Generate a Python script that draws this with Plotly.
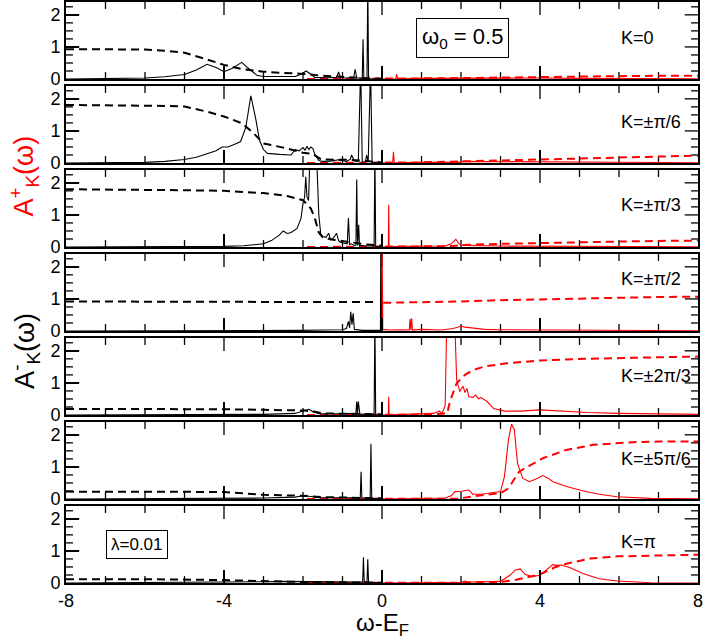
import plotly.graph_objects as go
from plotly.subplots import make_subplots

# ---------------- data ----------------
k_labels = ["K=0", "K=±π/6", "K=±π/3", "K=±π/2", "K=±2π/3", "K=±5π/6", "K=π"]
x_ticks = [-8, -4, 0, 4, 8]
y_ticks = [0, 1, 2]

k0_neg_w = [-8, -6.5, -6, -5.5, -5, -4.7, -4.43, -4.2, -4.0, -3.8, -3.55, -3.4, -3.17, -3.0, -2.5, -2.2, -2.05, -1.92, -1.8, -1.7, -1.4, -1.15, -1.1, -1.05, -0.9, -0.72, -0.68, -0.64, -0.5, -0.48, -0.46, -0.38, -0.36, -0.34, -0.3, 0]
k0_neg_A = [0, 0.01, 0.03, 0.07, 0.14, 0.28, 0.46, 0.36, 0.23, 0.33, 0.52, 0.35, 0.12, 0.08, 0.07, 0.08, 0.15, 0.25, 0.15, 0.05, 0.04, 0.05, 0.22, 0.04, 0.03, 0.04, 0.3, 0.04, 0.03, 1.24, 0.03, 0.02, 3.0, 0.02, 0.01, 0]
k0_neg_cw = [-8, -6, -5.5, -5, -4.43, -4, -3.55, -3, -2.5, -2, -1.5, -1, -0.5, 0]
k0_neg_C = [0.93, 0.92, 0.88, 0.82, 0.61, 0.44, 0.31, 0.23, 0.19, 0.16, 0.1, 0.06, 0.03, 0.01]
k0_pos_w = [0, 0.35, 0.37, 0.39, 1, 2, 3, 4, 5, 6, 8]
k0_pos_A = [0, 0.01, 0.15, 0.01, 0.02, 0.03, 0.03, 0.03, 0.02, 0.02, 0.01]
k0_pos_cw = [-1.9, 0, 0.4, 1, 2, 3, 4, 5, 6, 7, 8]
k0_pos_C = [0, 0, 0.01, 0.02, 0.03, 0.05, 0.06, 0.08, 0.09, 0.1, 0.1]

k1_neg_w = [-8, -6.5, -6, -5.5, -5, -4.7, -4.43, -4.2, -4.05, -3.9, -3.7, -3.58, -3.45, -3.32, -3.2, -3.1, -3.0, -2.9, -2.6, -2.3, -2.2, -2.1, -2.0, -1.95, -1.9, -1.85, -1.8, -1.75, -1.7, -1.6, -1.5, -1.3, -1.1, -0.9, -0.8, -0.77, -0.7, -0.6, -0.54, -0.5, -0.42, -0.39, -0.35, -0.29, -0.25, 0]
k1_neg_A = [0, 0.01, 0.02, 0.05, 0.11, 0.18, 0.28, 0.38, 0.5, 0.5, 0.6, 0.67, 1.1, 2.09, 1.4, 0.7, 0.42, 0.3, 0.27, 0.25, 0.42, 0.38, 0.48, 0.4, 0.52, 0.42, 0.5, 0.45, 0.27, 0.08, 0.05, 0.06, 0.1, 0.05, 0.12, 0.25, 0.06, 0.05, 3.0, 0.03, 0.04, 0.25, 0.03, 3.0, 0.02, 0]
k1_neg_cw = [-8, -6, -5.5, -5, -4.43, -4, -3.55, -3.25, -3, -2.5, -2, -1.75, -1.55, -1.2, -0.8, -0.4, 0]
k1_neg_C = [1.81, 1.8, 1.78, 1.76, 1.6, 1.45, 1.24, 0.93, 0.61, 0.48, 0.32, 0.28, 0.12, 0.1, 0.1, 0.06, 0.02]
k1_pos_w = [0, 0.27, 0.29, 0.31, 1.0, 1.95, 2.0, 3, 4, 5, 6, 8]
k1_pos_A = [0, 0.01, 0.35, 0.01, 0.02, 0.02, 0.05, 0.04, 0.04, 0.03, 0.02, 0.01]
k1_pos_cw = [-1.9, 0, 0.3, 1, 2, 3, 4, 5, 6, 7, 8]
k1_pos_C = [0, 0, 0.01, 0.02, 0.05, 0.08, 0.11, 0.15, 0.18, 0.21, 0.23]

k2_neg_w = [-8, -6, -5, -4, -3.5, -3.0, -2.8, -2.6, -2.5, -2.4, -2.3, -2.15, -2.05, -2.0, -1.96, -1.93, -1.9, -1.86, -1.82, -1.75, -1.66, -1.6, -1.55, -1.5, -1.42, -1.35, -1.3, -1.25, -1.15, -1.1, -1.05, -0.95, -0.88, -0.85, -0.82, -0.78, -0.7, -0.66, -0.64, -0.62, -0.59, -0.57, -0.55, -0.4, -0.2, -0.18, -0.16, 0]
k2_neg_A = [0, 0.0, 0.01, 0.02, 0.04, 0.1, 0.2, 0.37, 0.5, 0.42, 0.45, 0.58, 0.9, 1.36, 1.55, 2.19, 1.57, 1.45, 3.0, 3.0, 3.0, 1.0, 0.4, 0.33, 0.3, 0.43, 0.22, 0.25, 0.43, 0.2, 0.15, 0.12, 0.1, 0.9, 0.08, 0.1, 0.05, 0.06, 2.1, 0.05, 0.69, 0.04, 0.05, 0.03, 0.03, 3.0, 0.02, 0]
k2_neg_cw = [-8, -6, -5, -4, -3, -2.4, -2, -1.8, -1.7, -1.6, -1.5, -1.2, -0.8, -0.4, 0]
k2_neg_C = [1.8, 1.79, 1.77, 1.75, 1.68, 1.59, 1.46, 1.2, 0.9, 0.45, 0.3, 0.22, 0.15, 0.08, 0.04]
k2_pos_w = [0, 0.16, 0.17, 0.18, 0.5, 1.0, 1.6, 1.75, 1.87, 1.95, 2.05, 3, 4, 5, 8]
k2_pos_A = [0, 0.01, 1.32, 0.01, 0.02, 0.02, 0.03, 0.1, 0.24, 0.1, 0.05, 0.03, 0.03, 0.02, 0.01]
k2_pos_cw = [-1.9, 0, 0.2, 1, 1.8, 2.0, 3, 4, 5, 6, 7, 8]
k2_pos_C = [0, 0, 0.01, 0.02, 0.03, 0.06, 0.1, 0.13, 0.15, 0.17, 0.19, 0.2]

k3_neg_w = [-8, -5, -3, -2, -1.5, -1.2, -1.0, -0.9, -0.85, -0.82, -0.79, -0.76, -0.73, -0.7, -0.5, -0.1, -0.04, -0.03, -0.02]
k3_neg_A = [0, 0.0, 0.01, 0.02, 0.03, 0.05, 0.04, 0.08, 0.3, 0.1, 0.6, 0.2, 0.55, 0.05, 0.02, 0.02, 0.02, 3.0, 0]
k3_neg_cw = [-8, -4, -2, -1, -0.12]
k3_neg_C = [0.92, 0.92, 0.91, 0.9, 0.9]
k3_pos_w = [-0.01, 0.0, 0.02, 0.2, 0.5, 0.69, 0.71, 0.73, 0.75, 0.77, 1.0, 1.5, 1.8, 2.0, 2.1, 2.3, 2.6, 3, 4, 5, 8]
k3_pos_A = [0, 3.0, 0.05, 0.03, 0.04, 0.03, 0.37, 0.03, 0.4, 0.03, 0.05, 0.03, 0.08, 0.15, 0.12, 0.1, 0.05, 0.04, 0.03, 0.03, 0.01]
k3_pos_cw = [0.03, 1, 2, 3, 4, 5, 6, 7, 8]
k3_pos_C = [0.88, 0.89, 0.92, 0.96, 0.99, 1.02, 1.04, 1.06, 1.07]

k4_neg_w = [-8, -5, -3, -2.2, -2.0, -1.85, -1.75, -1.6, -1.2, -0.8, -0.66, -0.64, -0.62, -0.6, -0.58, -0.56, -0.4, -0.2, -0.18, -0.16, 0]
k4_neg_A = [0, 0.01, 0.02, 0.05, 0.12, 0.18, 0.1, 0.04, 0.04, 0.05, 0.05, 0.42, 0.05, 0.42, 0.05, 0.03, 0.02, 0.02, 3.0, 0.01, 0]
k4_neg_cw = [-8, -6, -4, -3, -2.2, -1.95, -1.7, -1.5, -1, -0.5, 0]
k4_neg_C = [0.19, 0.19, 0.18, 0.16, 0.13, 0.14, 0.1, 0.05, 0.04, 0.03, 0.02]
k4_pos_w = [0, 0.16, 0.17, 0.18, 0.5, 1.0, 1.3, 1.45, 1.52, 1.6, 1.64, 1.84, 1.89, 1.97, 2.05, 2.1, 2.15, 2.2, 2.3, 2.37, 2.45, 2.5, 2.6, 2.66, 2.75, 2.83, 3.1, 3.5, 4.0, 4.7, 5.2, 6.0, 7, 8]
k4_pos_A = [0, 0.01, 0.57, 0.01, 0.02, 0.03, 0.05, 0.12, 0.05, 0.3, 3.0, 3.0, 1.09, 0.73, 0.9, 0.7, 0.83, 0.57, 0.55, 0.62, 0.5, 0.55, 0.45, 0.42, 0.3, 0.2, 0.12, 0.12, 0.16, 0.1, 0.08, 0.05, 0.03, 0.02]
k4_pos_cw = [-1.9, 0, 1.0, 1.65, 1.72, 1.89, 2.1, 2.3, 2.59, 3.15, 4, 5.1, 6, 7, 8]
k4_pos_C = [0, 0, 0.01, 0.05, 0.42, 0.99, 1.25, 1.4, 1.51, 1.61, 1.7, 1.75, 1.78, 1.8, 1.82]

k5_neg_w = [-8, -5, -3, -2.2, -2.0, -1.8, -1.6, -1.2, -0.8, -0.6, -0.55, -0.53, -0.51, -0.4, -0.3, -0.28, -0.26, 0]
k5_neg_A = [0, 0.01, 0.03, 0.06, 0.1, 0.08, 0.04, 0.04, 0.05, 0.04, 0.04, 0.85, 0.04, 0.03, 0.03, 1.72, 0.02, 0]
k5_neg_cw = [-8, -6, -4, -3, -2, -1.5, -1, 0]
k5_neg_C = [0.23, 0.23, 0.22, 0.13, 0.1, 0.06, 0.04, 0.02]
k5_pos_w = [0, 0.5, 1.0, 1.6, 1.75, 1.85, 2.0, 2.2, 2.3, 2.5, 2.7, 2.85, 3.0, 3.1, 3.2, 3.28, 3.35, 3.43, 3.56, 3.73, 3.9, 4.07, 4.2, 4.33, 4.67, 5.1, 5.5, 5.95, 6.8, 8]
k5_pos_A = [0, 0.01, 0.02, 0.03, 0.1, 0.23, 0.24, 0.28, 0.15, 0.15, 0.18, 0.2, 0.23, 0.7, 1.84, 2.33, 2.16, 1.12, 0.65, 0.54, 0.62, 0.73, 0.65, 0.54, 0.39, 0.25, 0.15, 0.07, 0.02, 0.01]
k5_pos_cw = [-1.9, 0, 1.9, 2.6, 3.0, 3.2, 3.47, 3.77, 4.07, 4.67, 5.35, 6.36, 7, 8]
k5_pos_C = [0, 0, 0.01, 0.13, 0.18, 0.33, 0.85, 1.06, 1.27, 1.53, 1.69, 1.77, 1.79, 1.79]

k6_neg_w = [-8, -5, -3, -2.5, -2, -1.5, -1, -0.6, -0.52, -0.49, -0.47, -0.45, -0.38, -0.36, -0.34, 0]
k6_neg_A = [0, 0.01, 0.04, 0.05, 0.04, 0.03, 0.03, 0.03, 0.03, 0.03, 0.8, 0.03, 0.03, 0.74, 0.02, 0]
k6_neg_cw = [-8, -6, -4, -3, -2, -1, 0]
k6_neg_C = [0.12, 0.12, 0.09, 0.05, 0.03, 0.02, 0.01]
k6_pos_w = [0, 1, 2.0, 2.1, 2.2, 3.0, 3.24, 3.37, 3.5, 3.62, 3.8, 4.0, 4.17, 4.33, 4.4, 4.54, 4.75, 5.1, 5.5, 5.95, 6.8, 8]
k6_pos_A = [0, 0.01, 0.02, 0.06, 0.03, 0.05, 0.24, 0.4, 0.44, 0.27, 0.2, 0.24, 0.42, 0.58, 0.55, 0.56, 0.48, 0.29, 0.13, 0.06, 0.01, 0.0]
k6_pos_cw = [-1.9, 0, 2, 3.0, 3.4, 4.0, 4.4, 4.67, 5.27, 5.95, 6.8, 8]
k6_pos_C = [0, 0, 0.01, 0.03, 0.1, 0.27, 0.5, 0.6, 0.76, 0.83, 0.86, 0.88]

k_label_y = [1.27, 1.27, 1.31, 1.62, 1.2, 1.25, 1.27]

panels = [
    (k0_neg_w, k0_neg_A, k0_neg_cw, k0_neg_C, k0_pos_w, k0_pos_A, k0_pos_cw, k0_pos_C),
    (k1_neg_w, k1_neg_A, k1_neg_cw, k1_neg_C, k1_pos_w, k1_pos_A, k1_pos_cw, k1_pos_C),
    (k2_neg_w, k2_neg_A, k2_neg_cw, k2_neg_C, k2_pos_w, k2_pos_A, k2_pos_cw, k2_pos_C),
    (k3_neg_w, k3_neg_A, k3_neg_cw, k3_neg_C, k3_pos_w, k3_pos_A, k3_pos_cw, k3_pos_C),
    (k4_neg_w, k4_neg_A, k4_neg_cw, k4_neg_C, k4_pos_w, k4_pos_A, k4_pos_cw, k4_pos_C),
    (k5_neg_w, k5_neg_A, k5_neg_cw, k5_neg_C, k5_pos_w, k5_pos_A, k5_pos_cw, k5_pos_C),
    (k6_neg_w, k6_neg_A, k6_neg_cw, k6_neg_C, k6_pos_w, k6_pos_A, k6_pos_cw, k6_pos_C),
]

# axis extents
X_MIN, X_MAX = -8, 8
Y_MIN, Y_MAX = 0, 2.4

# ---------------- figure ----------------
FONT = "Liberation Sans, Arial, Helvetica, sans-serif"
n = len(panels)
fig = make_subplots(rows=n, cols=1, shared_xaxes=True, vertical_spacing=0.012)

RED = "#ff0000"
BLACK = "#000000"

# tick-mark geometry: lengths given as fractions of each axis span (~13 px major, ~7 px minor)
x_minor = list(range(X_MIN + 1, X_MAX))
y_minor = [q * 0.25 for q in range(1, int(Y_MAX / 0.25) + 1) if q * 0.25 < Y_MAX]
ylen_major = (Y_MAX - Y_MIN) * 0.17
ylen_minor = (Y_MAX - Y_MIN) * 0.09
xlen_major = (X_MAX - X_MIN) * 0.021
xlen_minor = (X_MAX - X_MIN) * 0.011

def tick_segments():
    xs, ys = [], []
    for v in x_minor:
        L = ylen_major if v in x_ticks else ylen_minor
        xs += [v, v, None, v, v, None]
        ys += [Y_MIN, Y_MIN + L, None, Y_MAX, Y_MAX - L, None]
    for v in y_minor:
        L = xlen_major if v in y_ticks else xlen_minor
        xs += [X_MIN, X_MIN + L, None, X_MAX, X_MAX - L, None]
        ys += [v, v, None, v, v, None]
    return xs, ys

tx, ty = tick_segments()

for i, (nw, nA, ncw, nC, pw, pA, pcw, pC) in enumerate(panels):
    r = i + 1
    fig.add_trace(go.Scatter(x=tx, y=ty, mode="lines", line=dict(color=BLACK, width=1.3),
                             hoverinfo="skip", connectgaps=False), row=r, col=1)
    fig.add_trace(go.Scatter(x=pcw, y=pC, mode="lines", line=dict(color=RED, width=2, dash="8px,5px")), row=r, col=1)
    fig.add_trace(go.Scatter(x=pw, y=pA, mode="lines", line=dict(color=RED, width=1.1)), row=r, col=1)
    fig.add_trace(go.Scatter(x=ncw, y=nC, mode="lines", line=dict(color=BLACK, width=2, dash="8px,5px")), row=r, col=1)
    fig.add_trace(go.Scatter(x=nw, y=nA, mode="lines", line=dict(color=BLACK, width=1.1)), row=r, col=1)
    xref = "x" if r == 1 else f"x{r}"
    yref = "y" if r == 1 else f"y{r}"
    fig.add_annotation(x=6.0, y=k_label_y[i], xref=xref, yref=yref, text=k_labels[i],
                       showarrow=False, xanchor="left", yanchor="middle",
                       font=dict(family=FONT, size=18, color="black"))

for r in range(1, n + 1):
    xkey = "xaxis" if r == 1 else f"xaxis{r}"
    ykey = "yaxis" if r == 1 else f"yaxis{r}"
    fig.layout[xkey].update(
        range=[X_MIN, X_MAX], tickmode="array", tickvals=x_ticks, ticktext=[str(v) for v in x_ticks],
        ticks="inside", ticklen=13, tickwidth=1.5, tickcolor="black",
        showline=True, linewidth=2, linecolor="black", mirror=True,
        showgrid=False, zeroline=False, showticklabels=(r == n),
    )
    fig.layout[ykey].update(
        range=[Y_MIN, Y_MAX], tickmode="array", tickvals=y_ticks, ticktext=[str(v) for v in y_ticks],
        ticks="inside", ticklen=13, tickwidth=1.5, tickcolor="black",
        showline=True, linewidth=2, linecolor="black", mirror=True,
        showgrid=False, zeroline=False,
    )

# boxed annotations
fig.add_annotation(x=2.03, y=1.28, xref="x", yref="y", text="ω<sub>0</sub> = 0.5", showarrow=False,
                   font=dict(family=FONT, size=22, color="black"), bordercolor="black", borderwidth=1, borderpad=5,
                   bgcolor="white")
fig.add_annotation(x=-6.2, y=1.19, xref=f"x{n}", yref=f"y{n}", text="λ=0.01", showarrow=False,
                   font=dict(family=FONT, size=17, color="black"), bordercolor="black", borderwidth=1, borderpad=4,
                   bgcolor="white")

# axis titles
fig.add_annotation(x=-0.066, y=0.70, xref="paper", yref="paper", text="A<sup>+</sup><sub>K</sub>(ω)",
                   textangle=-90, showarrow=False, xanchor="center", yanchor="middle",
                   font=dict(family=FONT, size=27, color=RED))
fig.add_annotation(x=-0.066, y=0.40, xref="paper", yref="paper", text="A<sup>-</sup><sub>K</sub>(ω)",
                   textangle=-90, showarrow=False, xanchor="center", yanchor="middle",
                   font=dict(family=FONT, size=27, color="black"))
fig.add_annotation(x=0.5, y=-0.072, xref="paper", yref="paper", text="ω-E<sub>F</sub>",
                   showarrow=False, xanchor="center", yanchor="middle",
                   font=dict(family=FONT, size=24, color="black"))

fig.update_layout(template="none", width=706, height=643, margin=dict(l=66, r=8, t=2, b=60),
                  showlegend=False, font=dict(family=FONT, size=18, color="black"))

fig.write_html("out.html", config={"displayModeBar": False},
               post_script="document.body.style.margin='0px';")
